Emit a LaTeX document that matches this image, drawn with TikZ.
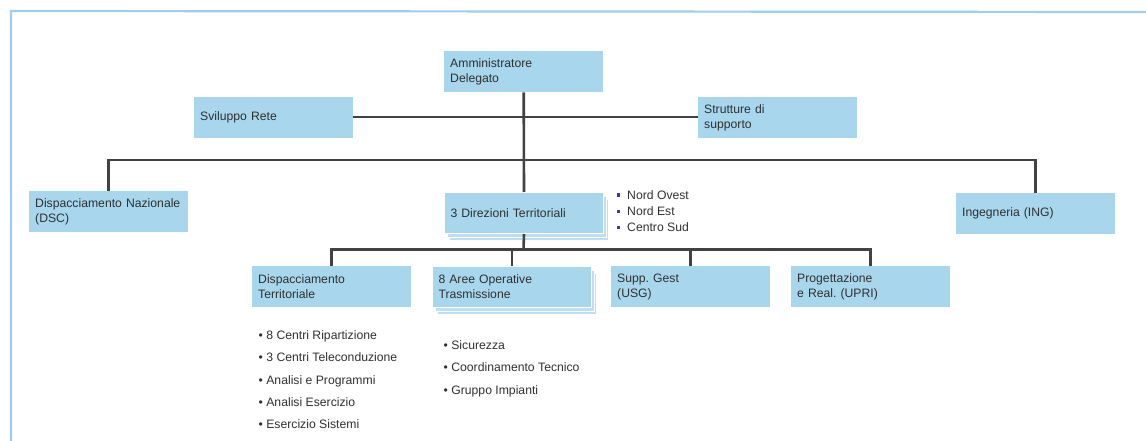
\documentclass[tikz,border=0pt]{standalone}
\usepackage{fontspec}
\setmainfont{Liberation Sans}
\definecolor{boxblue}{RGB}{168,214,236}
\definecolor{shadowblue}{RGB}{188,224,242}
\definecolor{framecol}{RGB}{160,206,236}
\definecolor{linegray}{RGB}{66,66,66}
\definecolor{txt}{RGB}{48,48,48}
\definecolor{sqblue}{RGB}{60,60,160}
\newcommand\orgfont{\fontsize{12.2pt}{15pt}\selectfont\frenchspacing}
\begin{document}
\frenchspacing
\begin{tikzpicture}[x=1pt,y=-1pt,
  box/.style={rectangle, fill=boxblue, minimum width=159pt, minimum height=41pt,
    inner xsep=6pt, inner ysep=0pt, text width=147pt, align=left, anchor=north west,
    font=\orgfont, text=txt},
  shad/.style={box, fill=shadowblue, draw=white, line width=1pt},
  conn/.style={draw=linegray, line width=2.6pt},
  item/.style={anchor=base west, font=\orgfont, text=txt, inner sep=0pt},
]
\useasboundingbox (0,0) rectangle (1146,441);
% frame
\draw[framecol, line width=2.2pt] (11,441) -- (11,11) -- (1146,12);

% top level
\node[box] (amm) at (444,51) {Amministratore\\Delegato};
\node[box] (svr) at (194,96.5) {Sviluppo Rete};
\node[box] (str) at (698,97) {Strutture di\\supporto};

% second level
\node[box] (dn) at (29,191) {Dispacciamento Nazionale\\(DSC)};
\node[shad] (dirs2) at (449,199) {};
\node[shad] (dirs1) at (446.5,195.5) {};
\node[box, draw=white, line width=1pt] (dir) at (444,192) {3 Direzioni Territoriali};
\node[box] (ing) at (956,193) {Ingegneria (ING)};

% third level
\node[box] (dt) at (252,266) {Dispacciamento\\Territoriale};
\node[shad] (aots2) at (437,273) {};
\node[shad] (aots1) at (434.5,269.5) {};
\node[box, draw=white, line width=1pt] (aot) at (432,266) {8 Aree Operative\\Trasmissione};
\node[box] (usg) at (611,266) {Supp.\ Gest\\(USG)};
\node[box] (upri) at (791,266) {Progettazione\\e Real.\ (UPRI)};

% connectors
\coordinate (j1) at (523.5,160);
\coordinate (j2) at (523.5,249.5);
\draw[conn] (svr.east) -- (svr.east -| str.west);
\draw[conn] (amm.south) -- (dir.north);
\draw[conn] (dn.north) |- (j1) -| (ing.north);
\draw[conn] (dir.south) -- (j2);
\draw[conn] (dt.north) |- (j2) -| (upri.north);
\draw[conn] (aot.north) -- (aot.north |- j2);
\draw[conn] (usg.north) -- (usg.north |- j2);

% regional list
\node[item] (no) at (617,199.5) {\textcolor{sqblue}{\rule[2.5pt]{3pt}{3.5pt}}\hspace{7pt}Nord Ovest};
\node[item] (ne) at (617,215.5) {\textcolor{sqblue}{\rule[2.5pt]{3pt}{3.5pt}}\hspace{7pt}Nord Est};
\node[item] (cs) at (617,231.5) {\textcolor{sqblue}{\rule[2.5pt]{3pt}{3.5pt}}\hspace{7pt}Centro Sud};

% dispacciamento territoriale list
\node[item] (l1) at (258.5,339.5) {• 8 Centri Ripartizione};
\node[item] (l2) at (258.5,361.75) {• 3 Centri Teleconduzione};
\node[item] (l3) at (258.5,384) {• Analisi e Programmi};
\node[item] (l4) at (258.5,406.25) {• Analisi Esercizio};
\node[item] (l5) at (258.5,428.5) {• Esercizio Sistemi};

% aree operative list
\node[item] (m1) at (443.5,349.5) {• Sicurezza};
\node[item] (m2) at (443.5,371.75) {• Coordinamento Tecnico};
\node[item] (m3) at (443.5,394) {• Gruppo Impianti};
\end{tikzpicture}
\end{document}
